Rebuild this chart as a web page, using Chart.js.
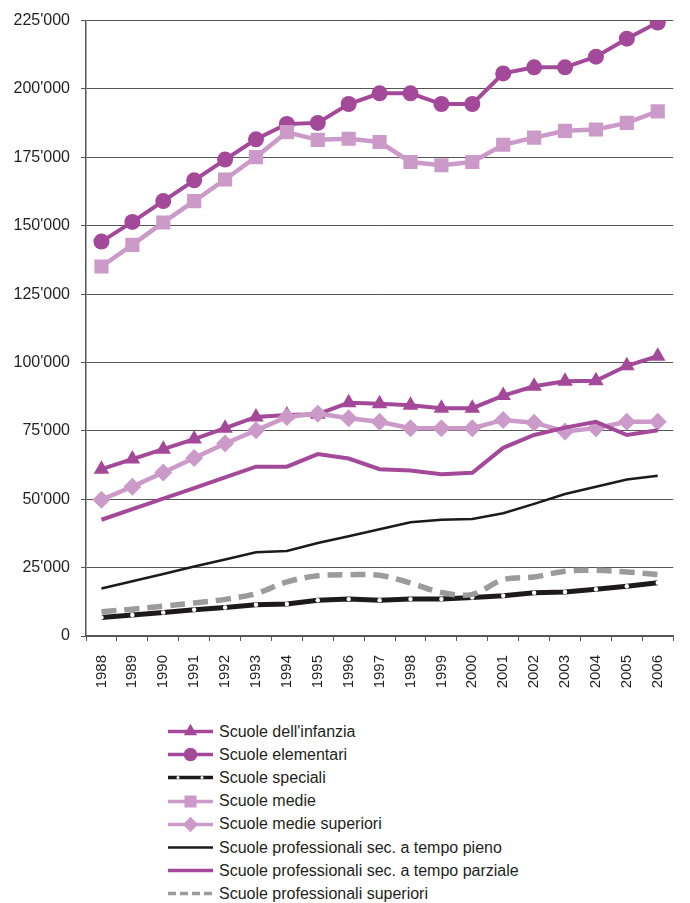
<!DOCTYPE html>
<html>
<head>
<meta charset="utf-8">
<title>Allievi per tipo di scuola</title>
<script src="https://cdn.jsdelivr.net/npm/chart.js@4.4.1/dist/chart.umd.min.js"></script>
<style>
  html, body { margin: 0; padding: 0; background: #fff; }
  #wrap { position: relative; width: 690px; height: 903px; }
  #chart { position: absolute; left: 0; top: 0; }
  #legend {
    position: absolute; left: 166px; top: 720px;
    font: 16px "Liberation Sans", Arial, sans-serif; color: #231F20;
  }
  .item { height: 23.2px; display: flex; align-items: center; white-space: nowrap; }
  .item svg { width: 50px; height: 23px; margin-right: 3px; flex: none; }
</style>
</head>
<body>
<div id="wrap">
  <canvas id="chart" width="690" height="700"></canvas>
  <div id="legend"></div>
</div>
<script>
const years = ['1988', '1989', '1990', '1991', '1992', '1993', '1994', '1995', '1996', '1997',
               '1998', '1999', '2000', '2001', '2002', '2003', '2004', '2005', '2006'];

const infanzia = [61000, 64700, 68300, 72000, 76000, 80100, 80800, 81100, 85300, 84900,
                  84400, 83300, 83300, 87900, 91300, 93100, 93300, 98800, 102300];
const elementari = [144200, 151400, 159000, 166600, 174200, 181600, 187200, 187600, 194500, 198400,
                    198400, 194500, 194500, 205700, 207900, 207900, 211800, 218400, 224300];
const speciali = [6800, 7700, 8600, 9600, 10400, 11400, 11700, 13100, 13500, 13100,
                  13500, 13500, 14100, 14700, 15800, 16100, 17100, 18200, 19500];
const medie = [135100, 143000, 151200, 159000, 166900, 175100, 184200, 181400, 181800, 180600,
               173300, 172100, 173300, 179600, 182200, 184700, 185200, 187600, 191800];
const medieSuperiori = [49800, 54600, 59800, 65100, 70400, 75200, 80100, 81300, 79600, 78300,
                        76000, 76000, 76000, 79000, 78000, 74800, 76000, 78300, 78300];
const profPieno = [17400, 20000, 22700, 25400, 28000, 30600, 31100, 34000, 36500, 39000,
                   41600, 42500, 42800, 44900, 48300, 51900, 54600, 57200, 58600];
const profParziale = [42500, 46400, 50200, 54100, 58000, 61900, 61900, 66500, 64900, 61000,
                      60500, 59100, 59700, 68800, 73500, 76200, 78300, 73500, 75200];
const profSuperiori = [8900, 9800, 10900, 12100, 13400, 15500, 19800, 22000, 22400, 22200,
                       19400, 15900, 15200, 20600, 21600, 23700, 24000, 23400, 22500];

const yTicks = [0, 25000, 50000, 75000, 100000, 125000, 150000, 175000, 200000, 225000];

const FONT = '"Liberation Sans", Arial, sans-serif';
const TEXT = '#231F20';
const MAGENTA = '#A4489A';
const PINK = '#CC9AC8';
const BLACK = '#1E1A1B';
const GREY = '#9B9B9B';
const AXIS = '#555555';

// one entry per series, in legend order
const series = [
  { label: "Scuole dell'infanzia", data: infanzia, color: MAGENTA, width: 4, point: 'triangle', radius: 9 },
  { label: 'Scuole elementari', data: elementari, color: MAGENTA, width: 4, point: 'circle', radius: 8 },
  { label: 'Scuole speciali', data: speciali, color: BLACK, width: 5, point: 'circle', radius: 2.2, dot: '#fff' },
  { label: 'Scuole medie', data: medie, color: PINK, width: 4.5, point: 'rect', radius: 10 },
  { label: 'Scuole medie superiori', data: medieSuperiori, color: PINK, width: 4.5, point: 'rectRot', radius: 9 },
  { label: 'Scuole professionali sec. a tempo pieno', data: profPieno, color: BLACK, width: 2.5 },
  { label: 'Scuole professionali sec. a tempo parziale', data: profParziale, color: MAGENTA, width: 4 },
  { label: 'Scuole professionali superiori', data: profSuperiori, color: GREY, width: 5.5, dash: [15, 8], tension: 0.35 }
];

const datasets = series.map((s, i) => ({
  label: s.label,
  data: s.data,
  borderColor: s.color,
  borderWidth: s.width,
  borderDash: s.dash || [],
  tension: s.tension || 0,
  fill: false,
  pointStyle: s.point || 'circle',
  pointRadius: s.point ? s.radius : 0,
  pointBackgroundColor: s.dot || s.color,
  pointBorderWidth: 0,
  order: series.length - i   // later series drawn on top
}));

const fmt = v => v === 0 ? '0' : String(v).replace(/\B(?=(\d{3})+(?!\d))/g, "'");

new Chart(document.getElementById('chart'), {
  type: 'line',
  data: { labels: years, datasets: datasets },
  options: {
    responsive: false,
    animation: false,
    devicePixelRatio: 1,
    layout: { padding: { top: 8, right: 0, left: 0, bottom: 0 } },
    plugins: { legend: { display: false }, tooltip: { enabled: false } },
    scales: {
      x: {
        offset: true,
        grid: { offset: true, drawOnChartArea: false, drawTicks: true, tickLength: 5, color: AXIS, lineWidth: 1 },
        border: { color: AXIS, width: 1.5 },
        ticks: { minRotation: 90, maxRotation: 90, padding: 14, color: TEXT, font: { family: FONT, size: 15 } },
        afterFit: s => { s.height = 64; }
      },
      y: {
        min: 0,
        max: 225000,
        afterBuildTicks: s => { s.ticks = yTicks.map(v => ({ value: v })); },
        grid: { color: AXIS, lineWidth: 1, drawTicks: true, tickLength: 5 },
        border: { color: AXIS, width: 1.5 },
        ticks: { padding: 11, color: TEXT, font: { family: FONT, size: 16 }, callback: v => fmt(v) },
        afterFit: s => { s.width = 86; }
      }
    }
  }
});

// legend in one column under the chart
const svgNS = 'http://www.w3.org/2000/svg';
function marker(s, cx, cy) {
  const r = s.radius;
  let el;
  if (s.point === 'circle') {
    el = document.createElementNS(svgNS, 'circle');
    el.setAttribute('cx', cx); el.setAttribute('cy', cy); el.setAttribute('r', r);
  } else {
    let pts;
    if (s.point === 'triangle') {
      pts = [[cx, cy - r], [cx + r * 0.866, cy + r * 0.5], [cx - r * 0.866, cy + r * 0.5]];
    } else if (s.point === 'rect') {
      const h = r * Math.SQRT1_2;
      pts = [[cx - h, cy - h], [cx + h, cy - h], [cx + h, cy + h], [cx - h, cy + h]];
    } else {
      pts = [[cx, cy - r], [cx + r, cy], [cx, cy + r], [cx - r, cy]];
    }
    el = document.createElementNS(svgNS, 'polygon');
    el.setAttribute('points', pts.map(p => p.join(',')).join(' '));
  }
  el.setAttribute('fill', s.dot || s.color);
  return el;
}

const legend = document.getElementById('legend');
series.forEach(s => {
  const row = document.createElement('div');
  row.className = 'item';
  const svg = document.createElementNS(svgNS, 'svg');
  svg.setAttribute('viewBox', '0 0 50 23');
  const line = document.createElementNS(svgNS, 'line');
  line.setAttribute('x1', 2); line.setAttribute('x2', 47);
  line.setAttribute('y1', 11.5); line.setAttribute('y2', 11.5);
  line.setAttribute('stroke', s.color);
  line.setAttribute('stroke-width', Math.min(s.width, 3.5));
  if (s.dash) line.setAttribute('stroke-dasharray', '8 4');
  svg.appendChild(line);
  if (s.point) {
    if (s.dot) {
      // the white dots sit between dashes of the black line
      [12, 36].forEach(x => svg.appendChild(marker({ point: 'circle', radius: 1.5, dot: '#fff' }, x, 11.5)));
    } else {
      svg.appendChild(marker({ point: s.point, radius: s.radius * 0.85, color: s.color }, 24.5, 11.5));
    }
  }
  const text = document.createElement('span');
  text.textContent = s.label;
  row.appendChild(svg);
  row.appendChild(text);
  legend.appendChild(row);
});
</script>
</body>
</html>
